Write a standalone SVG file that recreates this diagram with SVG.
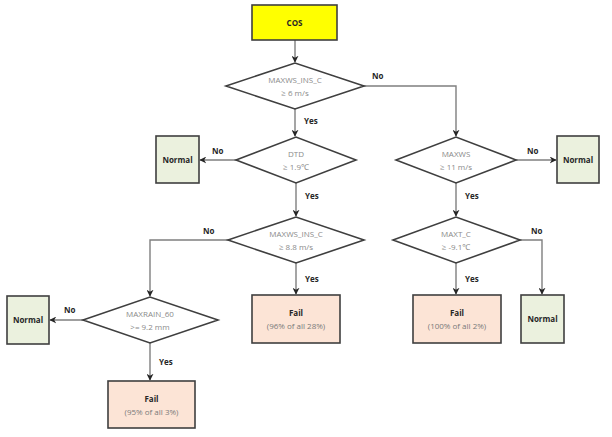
<svg xmlns="http://www.w3.org/2000/svg" width="612" height="437" viewBox="0 0 612 437">
  <style>
    .bg { fill: #ffffff; }
    .box { stroke: #3f3f3f; stroke-width: 1.6; }
    .start { fill: #ffff00; }
    .normal { fill: #ebf1de; }
    .fail { fill: #fce4d6; }
    .dec { fill: #ffffff; stroke: #3f3f3f; stroke-width: 1.6; }
    .wire { fill: none; stroke: #7f7f7f; stroke-width: 1.4; marker-end: url(#arrow); }
    text { font-family: "Open Sans", "Noto Sans", "DejaVu Sans", sans-serif; text-anchor: middle; }
    .cond { font-size: 8px; fill: #8a8a8a; }
    .title { font-size: 8px; font-weight: bold; fill: #262626; }
    .sub { font-size: 8px; fill: #7a7a7a; }
    .lbl { font-size: 8px; font-weight: bold; fill: #262626; text-anchor: start; }
  </style>
  <defs>
    <marker id="arrow" viewBox="0 0 10 10" refX="9" refY="5" markerWidth="7" markerHeight="7" orient="auto" markerUnits="userSpaceOnUse">
      <path d="M0,0 L10,5 L0,10 L3,5 Z" fill="#262626"/>
    </marker>
  </defs>
  <rect class="bg" x="0" y="0" width="612" height="437"/>

  <g id="connectors">
    <path class="wire" d="M295,40 V62"/>
    <path class="wire" d="M364,86 H456 V136"/>
    <path class="wire" d="M295,109 V136"/>
    <path class="wire" d="M236,160 H200"/>
    <path class="wire" d="M296,183 V216"/>
    <path class="wire" d="M516,160 H556"/>
    <path class="wire" d="M456,183 V216"/>
    <path class="wire" d="M228,240 H150 V296"/>
    <path class="wire" d="M296,263 V294"/>
    <path class="wire" d="M520,240 H542 V294"/>
    <path class="wire" d="M456,263 V294"/>
    <path class="wire" d="M83,320 H50"/>
    <path class="wire" d="M150,343 V380"/>
    <text class="lbl" x="372" y="79">No</text>
    <text class="lbl" x="304" y="124">Yes</text>
    <text class="lbl" x="212" y="154">No</text>
    <text class="lbl" x="305" y="199">Yes</text>
    <text class="lbl" x="527" y="154">No</text>
    <text class="lbl" x="465" y="199">Yes</text>
    <text class="lbl" x="203" y="234">No</text>
    <text class="lbl" x="305" y="282">Yes</text>
    <text class="lbl" x="531" y="234">No</text>
    <text class="lbl" x="465" y="282">Yes</text>
    <text class="lbl" x="64" y="313">No</text>
    <text class="lbl" x="159" y="365">Yes</text>
  </g>

  <g id="cos">
    <rect class="box start" x="252" y="5" width="85" height="35"/>
    <text class="title" x="294.5" y="25.5">COS</text>
  </g>

  <g id="q-maxws-ins-6">
    <polygon class="dec" points="226,86 295,63 364,86 295,109"/>
    <text class="cond" x="295" y="83">MAXWS_INS_C</text>
    <text class="cond" x="295" y="96">≥ 6 m/s</text>
  </g>

  <g id="q-dtd">
    <polygon class="dec" points="236,160 296,137 356,160 296,183"/>
    <text class="cond" x="296" y="157">DTD</text>
    <text class="cond" x="296" y="170">≥ 1.9℃</text>
  </g>

  <g id="normal-dtd">
    <rect class="box normal" x="156" y="136" width="43" height="47"/>
    <text class="title" x="177.5" y="162.5">Normal</text>
  </g>

  <g id="q-maxws">
    <polygon class="dec" points="396,160 456,137 516,160 456,183"/>
    <text class="cond" x="456" y="157">MAXWS</text>
    <text class="cond" x="456" y="170">≥ 11 m/s</text>
  </g>

  <g id="normal-maxws">
    <rect class="box normal" x="557" y="136" width="42" height="47"/>
    <text class="title" x="578" y="162.5">Normal</text>
  </g>

  <g id="q-maxws-ins-88">
    <polygon class="dec" points="228,240 296,217 364,240 296,263"/>
    <text class="cond" x="296" y="237">MAXWS_INS_C</text>
    <text class="cond" x="296" y="250">≥ 8.8 m/s</text>
  </g>

  <g id="q-maxt">
    <polygon class="dec" points="393,240 456,217 520,240 456,263"/>
    <text class="cond" x="456" y="237">MAXT_C</text>
    <text class="cond" x="456" y="250">≥ -9.1℃</text>
  </g>

  <g id="q-maxrain">
    <polygon class="dec" points="83,320 150,297 218,320 150,343"/>
    <text class="cond" x="150" y="317">MAXRAIN_60</text>
    <text class="cond" x="150" y="330">&gt;= 9.2 mm</text>
  </g>

  <g id="normal-maxrain">
    <rect class="box normal" x="7" y="296" width="42" height="48"/>
    <text class="title" x="28" y="323">Normal</text>
  </g>

  <g id="fail-ins">
    <rect class="box fail" x="252" y="295" width="88" height="48"/>
    <text class="title" x="296" y="316">Fail</text>
    <text class="sub" x="296" y="329">(96% of all 28%)</text>
  </g>

  <g id="fail-maxt">
    <rect class="box fail" x="413" y="295" width="88" height="48"/>
    <text class="title" x="457" y="316">Fail</text>
    <text class="sub" x="457" y="329">(100% of all 2%)</text>
  </g>

  <g id="normal-maxt">
    <rect class="box normal" x="521" y="295" width="43" height="48"/>
    <text class="title" x="542.5" y="322">Normal</text>
  </g>

  <g id="fail-maxrain">
    <rect class="box fail" x="108" y="381" width="87" height="47"/>
    <text class="title" x="151.5" y="402">Fail</text>
    <text class="sub" x="151.5" y="415">(95% of all 3%)</text>
  </g>
</svg>
